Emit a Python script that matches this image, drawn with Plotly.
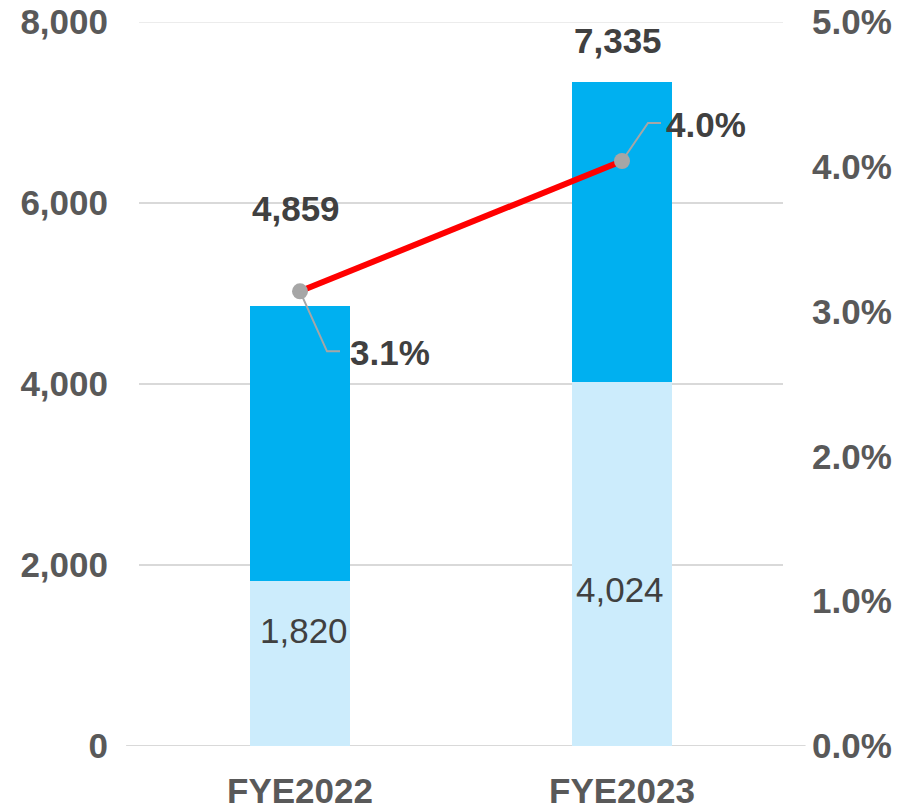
import plotly.graph_objects as go

categories = ["FYE2022", "FYE2023"]
bottom_values = [1820, 4024]
top_values = [3039, 3311]
totals = [4859, 7335]
ratio_values = [3.14, 4.04]
ratio_labels = ["3.1%", "4.0%"]
left_ticks = [0, 2000, 4000, 6000, 8000]
right_ticks = [0, 1, 2, 3, 4, 5]
right_tick_labels = ["0.0%", "1.0%", "2.0%", "3.0%", "4.0%", "5.0%"]

FONT = "Liberation Sans, Arial, sans-serif"
AX = "#595959"
LBL = "#404040"
FS = 35

fig = go.Figure()
fig.add_trace(go.Bar(x=categories, y=bottom_values, marker_color="#CCECFC", width=0.31,
                     marker_line_width=0, hoverinfo="skip"))
fig.add_trace(go.Bar(x=categories, y=top_values, marker_color="#00B0F0", width=0.31,
                     marker_line_width=0, hoverinfo="skip"))
fig.add_trace(go.Scatter(x=categories, y=ratio_values, yaxis="y2", mode="lines+markers",
                         line=dict(color="#FF0000", width=6),
                         marker=dict(color="#A6A6A6", size=16), hoverinfo="skip"))

ann = []
# totals
tot_shift = [98, 42]
tot_x = [-4, -4]
for i, c in enumerate(categories):
    ann.append(dict(x=c, y=totals[i], xref="x", yref="y", text=f"{totals[i]:,}", showarrow=False,
                    yshift=tot_shift[i], xshift=tot_x[i],
                    font=dict(family=FONT, size=FS, color=LBL, weight="bold")))
# bottom labels
bot_shift = [-49, -208]
bot_x = [4, -2]
for i, c in enumerate(categories):
    ann.append(dict(x=c, y=bottom_values[i], xref="x", yref="y", text=f"{bottom_values[i]:,}", showarrow=False,
                    yshift=bot_shift[i], xshift=bot_x[i], font=dict(family=FONT, size=FS, color=LBL)))
# ratio labels
r_x = [90, 84]
r_y = [-61, 37]
for i, c in enumerate(categories):
    ann.append(dict(x=c, y=ratio_values[i], xref="x", yref="y2", text=ratio_labels[i], showarrow=False,
                    xshift=r_x[i], yshift=r_y[i],
                    font=dict(family=FONT, size=FS, color=LBL, weight="bold")))

shapes = [
    dict(type="path", xref="x", yref="y2", xsizemode="pixel", ysizemode="pixel",
         xanchor=0, yanchor=ratio_values[0], path="M 0,0 L 27,-60 L 40,-60",
         line=dict(color="#A6A6A6", width=2)),
    dict(type="path", xref="x", yref="y2", xsizemode="pixel", ysizemode="pixel",
         xanchor=1, yanchor=ratio_values[1], path="M 0,0 L 26,38 L 39,38",
         line=dict(color="#A6A6A6", width=2)),
    dict(type="line", xref="paper", yref="y", x0=-0.02, x1=1.035, y0=0, y1=0,
         line=dict(color="#D9D9D9", width=2), layer="below"),
    dict(type="line", xref="paper", yref="y", x0=0, x1=1, y0=left_ticks[-1], y1=left_ticks[-1],
         line=dict(color="#E6E6E6", width=1.5), layer="below"),
]

fig.update_layout(
    width=910, height=806, barmode="stack", showlegend=False,
    plot_bgcolor="white", paper_bgcolor="white",
    margin=dict(l=131, r=135, t=14, b=68, autoexpand=False),
    font=dict(family=FONT, color=AX),
    annotations=ann, shapes=shapes,
    xaxis=dict(tickfont=dict(size=FS, color=AX, weight="bold"), showgrid=False, showline=False,
               ticks="", ticklabelstandoff=21, automargin=False, ticklabeloverflow="allow"),
    yaxis=dict(range=[0, 8000], tickvals=left_ticks, ticktext=[f"{v:,}" for v in left_ticks],
               tickfont=dict(size=FS, color=AX, weight="bold"), gridcolor="#D9D9D9", gridwidth=1.5,
               zeroline=False, showline=False, ticklabelstandoff=30, automargin=False,
               ticklabeloverflow="allow"),
    yaxis2=dict(range=[0, 5], tickvals=right_ticks, ticktext=right_tick_labels,
                overlaying="y", side="right", showgrid=False, zeroline=False, showline=False,
                tickfont=dict(size=FS, color=AX, weight="bold"), ticklabelstandoff=28, automargin=False,
                ticklabeloverflow="allow"),
)

fig.write_html("out.html")
